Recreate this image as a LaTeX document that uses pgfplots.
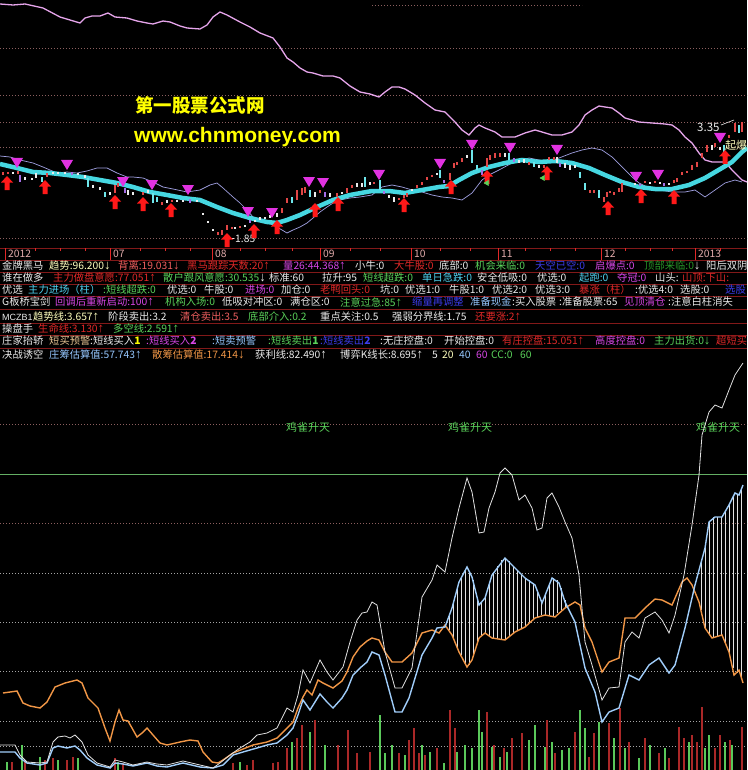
\documentclass[border=0pt]{standalone}
\usepackage{pgfplots}
\pgfplotsset{compat=1.18}
\usepackage{fontspec}
\newfontfamily\cjk{Noto Sans CJK SC}
\newfontfamily\lsans{Liberation Sans}
\definecolor{cW}{RGB}{235,235,235}
\definecolor{cLY}{RGB}{255,255,190}
\definecolor{cPR}{RGB}{240,95,95}
\definecolor{cR}{RGB}{225,40,40}
\definecolor{cM}{RGB}{215,70,230}
\definecolor{cG}{RGB}{90,210,90}
\definecolor{cDG}{RGB}{40,150,40}
\definecolor{cB}{RGB}{60,60,235}
\definecolor{cC}{RGB}{80,210,240}
\definecolor{cLB}{RGB}{150,200,255}
\definecolor{cO}{RGB}{240,150,70}
\definecolor{cLO}{RGB}{235,200,150}
\definecolor{cY}{RGB}{255,255,0}
\definecolor{cDate}{RGB}{225,170,170}
\definecolor{cSep}{RGB}{130,25,25}
\definecolor{cDot}{RGB}{140,95,95}
\definecolor{cDotW}{RGB}{165,165,165}
\definecolor{cPink}{RGB}{230,165,235}
\definecolor{cLav}{RGB}{160,160,225}
\definecolor{cBand}{RGB}{70,215,225}
\definecolor{cCand}{RGB}{225,70,70}
\definecolor{cCyan}{RGB}{110,230,235}
\definecolor{cPur}{RGB}{165,110,230}
\definecolor{cTri}{RGB}{225,50,225}
\definecolor{cArr}{RGB}{255,25,25}
\definecolor{cVR}{RGB}{170,40,40}
\definecolor{cVG}{RGB}{90,200,90}
\definecolor{cLine}{RGB}{225,225,225}
\definecolor{cBlue}{RGB}{160,205,250}
\definecolor{cHL}{RGB}{100,175,100}
\newcommand\rowfont{\cjk\fontsize{10.3}{11}\selectfont}
\newcommand\U{{\lsans\fontsize{13}{11}\selectfont ↑}}
\newcommand\D{{\lsans\fontsize{13}{11}\selectfont ↓}}
\newcommand\T[4]{\node[anchor=west,inner sep=0pt,text=#3,font=\rowfont] at (axis cs:#1,#2) {#4};}
\pgfdeclareplotmark{uparr}{%
 \pgfpathmoveto{\pgfqpoint{0pt}{7pt}}%
 \pgfpathlineto{\pgfqpoint{6pt}{0.5pt}}%
 \pgfpathlineto{\pgfqpoint{2.5pt}{0.5pt}}%
 \pgfpathlineto{\pgfqpoint{2.5pt}{-7pt}}%
 \pgfpathlineto{\pgfqpoint{-2.5pt}{-7pt}}%
 \pgfpathlineto{\pgfqpoint{-2.5pt}{0.5pt}}%
 \pgfpathlineto{\pgfqpoint{-6pt}{0.5pt}}%
 \pgfpathclose\pgfusepathqfill}
\pgfdeclareplotmark{downtri}{%
 \pgfpathmoveto{\pgfqpoint{-6pt}{5pt}}%
 \pgfpathlineto{\pgfqpoint{6pt}{5pt}}%
 \pgfpathlineto{\pgfqpoint{0pt}{-5pt}}%
 \pgfpathclose\pgfusepathqfill}
\begin{document}
\begin{tikzpicture}
\begin{axis}[scale only axis,width=747pt,height=770pt,
 xmin=0,xmax=747,ymin=0,ymax=770,y dir=reverse,hide axis,unbounded coords=jump]
\fill[black] (axis cs:0,0) rectangle (axis cs:747,770);
% ---------- top panel grid
\addplot[cDot,dash pattern=on 1pt off 2pt] coordinates {(372,5)(582,5)};
\addplot[cDot,dash pattern=on 1pt off 2pt] coordinates {(0,48)(747,48)};
\addplot[cDot,dash pattern=on 1pt off 2pt] coordinates {(0,95)(747,95)};
\addplot[cDot,dash pattern=on 1pt off 2pt] coordinates {(0,122)(747,122)};
\addplot[cDot,dash pattern=on 1pt off 2pt] coordinates {(0,147)(747,147)};
\addplot[cDot,dash pattern=on 1pt off 2pt] coordinates {(0,238)(747,238)};
% ---------- pink line
\addplot[cPink,line width=1.3pt] coordinates {(0,4)(13,5)(25,4)(43,8)(60,17)(80,23)(85,18)(92,16)(100,16)(108,13)(115,17)(127,18)(137,21)(147,23)(153,24)(163,21)(170,22)(180,26)(187,28)(200,29)(207,25)(213,17)(220,12)(227,15)(240,22)(250,27)(260,33)(273,38)(280,47)(287,58)(293,62)(300,68)(307,72)(313,73)(323,76)(333,76)(340,78)(350,86)(360,92)(370,94)(379,97)(385,92)(392,87)(399,87)(405,89)(415,95)(425,103)(435,110)(445,112)(455,122)(462,130)(469,135)(475,128)(479,125)(485,128)(495,132)(502,137)(515,137)(525,133)(535,130)(542,132)(552,135)(562,135)(572,132)(579,125)(585,115)(592,110)(599,106)(605,107)(612,108)(619,113)(625,118)(639,122)(652,123)(665,124)(672,125)(679,130)(685,137)(692,143)(699,153)(705,160)(712,162)(719,162)(725,162)(732,170)(739,177)(742,180)(747,182)};
% ---------- thin lavender line
\addplot[cLav,line width=0.7pt] coordinates {(0,156)(10,157)(20,160)(33,163)(43,167)(50,170)(57,173)(67,172)(77,173)(87,171)(97,168)(107,168)(117,173)(127,177)(133,177)(143,178)(153,182)(163,187)(173,189)(187,192)(200,190)(210,185)(217,183)(223,188)(233,197)(240,203)(247,210)(253,217)(260,220)(267,222)(277,227)(287,233)(293,230)(300,227)(307,223)(313,218)(320,212)(327,207)(333,203)(340,200)(350,198)(360,197)(372,195)(382,187)(392,185)(402,187)(412,190)(422,192)(432,195)(442,197)(452,198)(462,200)(472,193)(482,180)(489,175)(499,170)(512,163)(522,160)(529,158)(539,160)(549,162)(559,158)(572,153)(582,150)(592,148)(602,150)(612,157)(622,167)(632,177)(639,183)(649,188)(659,190)(672,192)(685,192)(695,190)(705,197)(715,190)(725,183)(735,180)(742,182)};
% ---------- cyan band
\addplot[cBand,line width=4.5pt] coordinates {(0,164)(17,168)(33,172)(50,173)(67,175)(83,177)(100,180)(117,183)(133,187)(150,192)(167,195)(183,198)(200,200)(217,207)(233,213)(250,218)(267,222)(277,223)(287,220)(300,215)(317,207)(333,200)(350,195)(372,191)(389,191)(405,193)(422,190)(439,187)(449,186)(459,180)(472,173)(489,167)(505,163)(522,160)(539,162)(555,161)(572,163)(589,168)(605,175)(622,182)(639,187)(655,189)(672,189)(689,185)(705,178)(722,168)(732,162)(742,152)(747,148)};
% ---------- candles
\addplot[cCand,line width=2.6pt] coordinates {(3,172)(3,175)(3,nan)(8,172)(8,174)(8,nan)(18,171)(18,174)(18,nan)(47,173)(47,177)(47,nan)(115,185)(115,193)(115,nan)(118,183)(118,187)(118,nan)(143,192)(143,195)(143,nan)(162,202)(162,205)(162,nan)(172,200)(172,202)(172,nan)(218,232)(218,235)(218,nan)(222,230)(222,235)(222,nan)(227,225)(227,230)(227,nan)(232,227)(232,229)(232,nan)(240,226)(240,228)(240,nan)(282,208)(282,213)(282,nan)(287,198)(287,203)(287,nan)(297,190)(297,200)(297,nan)(302,188)(302,195)(302,nan)(305,187)(305,193)(305,nan)(320,190)(320,193)(320,nan)(337,193)(337,197)(337,nan)(347,188)(347,193)(347,nan)(352,185)(352,188)(352,nan)(374,182)(374,184)(374,nan)(399,198)(399,200)(399,nan)(404,195)(404,198)(404,nan)(407,193)(407,197)(407,nan)(417,185)(417,188)(417,nan)(422,182)(422,185)(422,nan)(427,177)(427,180)(427,nan)(432,175)(432,177)(432,nan)(450,173)(450,180)(450,nan)(454,163)(454,168)(454,nan)(457,162)(457,165)(457,nan)(462,158)(462,162)(462,nan)(487,158)(487,167)(487,nan)(490,155)(490,160)(490,nan)(495,153)(495,158)(495,nan)(500,153)(500,157)(500,nan)(529,162)(529,165)(529,nan)(544,165)(544,168)(544,nan)(549,157)(549,160)(549,nan)(554,157)(554,160)(554,nan)(590,190)(590,193)(590,nan)(594,190)(594,193)(594,nan)(604,197)(604,202)(604,nan)(607,192)(607,197)(607,nan)(610,191)(610,193)(610,nan)(614,192)(614,195)(614,nan)(619,188)(619,192)(619,nan)(622,183)(622,192)(622,nan)(645,181)(645,183)(645,nan)(655,181)(655,183)(655,nan)(674,180)(674,183)(674,nan)(677,178)(677,182)(677,nan)(682,172)(682,175)(682,nan)(687,171)(687,173)(687,nan)(692,165)(692,170)(692,nan)(697,162)(697,167)(697,nan)(702,153)(702,158)(702,nan)(707,145)(707,152)(707,nan)(715,143)(715,147)(715,nan)(729,135)(729,138)(729,nan)(735,123)(735,132)(735,nan)(742,122)(742,132)};
\addplot[cCyan,line width=2.6pt] coordinates {(42,177)(42,182)(42,nan)(88,178)(88,187)(88,nan)(105,192)(105,197)(105,nan)(153,193)(153,203)(153,nan)(157,197)(157,202)(157,nan)(292,197)(292,203)(292,nan)(310,190)(310,197)(310,nan)(365,177)(365,187)(365,nan)(380,180)(380,190)(380,nan)(440,170)(440,178)(440,nan)(472,150)(472,163)(472,nan)(477,165)(477,170)(477,nan)(509,153)(509,160)(509,nan)(534,162)(534,167)(534,nan)(580,172)(580,178)(580,nan)(585,183)(585,190)(585,nan)(599,190)(599,198)(599,nan)(724,145)(724,153)(724,nan)(739,125)(739,133)};
\addplot[cW,line width=1.6pt] coordinates {(13,172)(13,174)(13,nan)(25,177)(25,180)(25,nan)(32,178)(32,180)(32,nan)(36,173)(36,178)(36,nan)(53,172)(53,174)(53,nan)(58,172)(58,174)(58,nan)(65,172)(65,174)(65,nan)(78,173)(78,175)(78,nan)(85,175)(85,178)(85,nan)(93,185)(93,188)(93,nan)(100,187)(100,190)(100,nan)(110,192)(110,195)(110,nan)(128,190)(128,195)(128,nan)(133,192)(133,195)(133,nan)(148,190)(148,193)(148,nan)(167,200)(167,203)(167,nan)(177,200)(177,202)(177,nan)(183,200)(183,202)(183,nan)(197,200)(197,202)(197,nan)(203,213)(203,215)(203,nan)(208,221)(208,223)(208,nan)(213,229)(213,231)(213,nan)(235,227)(235,229)(235,nan)(245,225)(245,227)(245,nan)(255,220)(255,222)(255,nan)(260,217)(260,220)(260,nan)(265,217)(265,219)(265,nan)(270,215)(270,218)(270,nan)(277,213)(277,217)(277,nan)(315,192)(315,197)(315,nan)(330,193)(330,197)(330,nan)(342,192)(342,194)(342,nan)(357,183)(357,187)(357,nan)(362,183)(362,187)(362,nan)(370,182)(370,185)(370,nan)(389,195)(389,198)(389,nan)(394,197)(394,202)(394,nan)(412,189)(412,191)(412,nan)(437,173)(437,175)(437,nan)(467,155)(467,158)(467,nan)(505,153)(505,157)(505,nan)(519,160)(519,163)(519,nan)(524,159)(524,163)(524,nan)(539,165)(539,168)(539,nan)(557,157)(557,163)(557,nan)(565,163)(565,168)(565,nan)(570,165)(570,170)(570,nan)(575,165)(575,168)(575,nan)(635,183)(635,185)(635,nan)(650,182)(650,184)(650,nan)(660,182)(660,184)(660,nan)(669,183)(669,185)(669,nan)(712,145)(712,150)(712,nan)(720,147)(720,150)};
\addplot[cPur,line width=2.6pt] coordinates {(20,175)(20,182)(20,nan)(72,172)(72,175)(72,nan)(125,188)(125,193)(125,nan)(190,199)(190,203)(190,nan)(250,220)(250,223)(250,nan)(325,192)(325,197)(325,nan)(384,191)(384,194)(384,nan)(444,180)(444,183)(444,nan)(482,170)(482,175)(482,nan)(514,158)(514,162)(514,nan)(560,163)(560,167)(560,nan)(640,184)(640,186)(640,nan)(664,183)(664,186)};
% ---------- signals
\addplot[only marks,mark=downtri,color=cTri] coordinates {(17,163)(67,165)(123,182)(152,185)(188,190)(248,212)(272,213)(309,182)(323,183)(379,175)(440,164)(472,145)(510,148)(557,150)(636,177)(658,175)(720,138)};
\addplot[only marks,mark=uparr,color=cArr] coordinates {(7,183)(45,187)(115,202)(143,204)(171,210)(227,240)(254,231)(277,227)(315,210)(338,204)(404,205)(451,187)(487,177)(547,173)(608,208)(641,196)(674,197)(725,157)};
\addplot[only marks,mark=triangle*,mark size=3pt,color=cG,mark options={rotate=-30}] coordinates {(487,183)(543,178)};
\addplot[cW,line width=0.6pt] coordinates {(226,238)(234,238)};
\addplot[cW,line width=0.6pt] coordinates {(721,125)(734,120)};
\node[anchor=west,inner sep=0pt,text=cW,font=\rowfont] at (axis cs:235,239) {1.85};
\node[anchor=west,inner sep=0pt,text=cW,font=\cjk\fontsize{11.5}{12}\selectfont] at (axis cs:697,127) {3.35};
\node[anchor=west,inner sep=0pt,text=cLY,font=\cjk\fontsize{11}{11}\selectfont] at (axis cs:725,145) {起爆};
% ---------- watermark
\node[anchor=west,inner sep=0pt,text=cY,font=\cjk\bfseries\fontsize{18.5}{19}\selectfont] at (axis cs:135,105) {第一股票公式网};
\node[anchor=west,inner sep=0pt,text=cY,font=\lsans\bfseries\fontsize{21}{21}\selectfont] at (axis cs:134,137) {www.chnmoney.com};
% ---------- separators and date axis
\addplot[cSep,line width=1pt] coordinates {(0,248)(747,248)};
\addplot[cSep,line width=1pt] coordinates {(0,260)(747,260)};
\addplot[cSep,line width=0.8pt] coordinates {(0,272)(747,272)};
\addplot[cSep,line width=0.8pt] coordinates {(0,284)(747,284)};
\addplot[cSep,line width=0.8pt] coordinates {(0,296)(747,296)};
\addplot[cSep,line width=0.8pt] coordinates {(0,309)(747,309)};
\addplot[cSep,line width=0.8pt] coordinates {(0,323)(747,323)};
\addplot[cSep,line width=0.8pt] coordinates {(0,335)(747,335)};
\addplot[cSep,line width=0.8pt] coordinates {(0,348)(747,348)};
\addplot[cR,line width=0.8pt] coordinates {(5,248)(5,260)(5,nan)(110,248)(110,260)(110,nan)(212,248)(212,260)(212,nan)(320,248)(320,260)(320,nan)(411,248)(411,260)(411,nan)(498,248)(498,260)(498,nan)(601,248)(601,260)(601,nan)(695,248)(695,260)};
\addplot[cR,line width=0.6pt] coordinates {(35,248)(35,251)(35,nan)(60,248)(60,251)(60,nan)(85,248)(85,251)(85,nan)(140,248)(140,251)(140,nan)(165,248)(165,251)(165,nan)(190,248)(190,251)(190,nan)(240,248)(240,251)(240,nan)(265,248)(265,251)(265,nan)(292,248)(292,251)(292,nan)(350,248)(350,251)(350,nan)(380,248)(380,251)(380,nan)(440,248)(440,251)(440,nan)(470,248)(470,251)(470,nan)(525,248)(525,251)(525,nan)(550,248)(550,251)(550,nan)(575,248)(575,251)(575,nan)(625,248)(625,251)(625,nan)(650,248)(650,251)(650,nan)(672,248)(672,251)(672,nan)(720,248)(720,251)};
\T{8}{254}{cDate}{2012}
\T{113}{254}{cDate}{07}
\T{215}{254}{cDate}{08}
\T{323}{254}{cDate}{09}
\T{414}{254}{cDate}{10}
\T{501}{254}{cDate}{11}
\T{604}{254}{cDate}{12}
\T{698}{254}{cDate}{2013}
% ---------- text rows
\T{2}{266}{cW}{金牌黑马}
\T{49}{266}{cLY}{趋势:96.200\D}
\T{118}{266}{cPR}{背离:19.031\D}
\T{187}{266}{cR}{黑马跟踪天数:20\U}
\T{283}{266}{cM}{量26:44.368\U}
\T{355}{266}{cW}{小牛:0}
\T{394}{266}{cR}{大牛股:0}
\T{439}{266}{cW}{底部:0}
\T{475}{266}{cG}{机会来临:0}
\T{535}{266}{cB}{天空已空:0}
\T{595}{266}{cM}{启爆点:0}
\T{644}{266}{cDG}{顶部来临:0\textcolor{cW}{\D}}
\T{706}{266}{cW}{阳后双阴}
\T{2}{278}{cW}{谁在做多}
\T{53}{278}{cR}{主力做盘意愿:77.051\U}
\T{163}{278}{cG}{散户跟风意愿:30.535\textcolor{cW}{\D}}
\T{269}{278}{cW}{标准:60}
\T{322}{278}{cW}{拉升:95}
\T{363}{278}{cG}{短线超跌:0}
\T{422}{278}{cC}{单日急跌:0}
\T{477}{278}{cW}{安全低吸:0}
\T{537}{278}{cW}{优选:0}
\T{579}{278}{cC}{起跑:0}
\T{617}{278}{cM}{夺冠:0}
\T{655}{278}{cW}{山头:}
\T{682}{278}{cR}{山顶:下山:}
\T{2}{290}{cW}{优选}
\T{28}{290}{cC}{主力进场（柱）}
\T{103}{290}{cG}{:短线超跌:0}
\T{167}{290}{cW}{优选:0}
\T{204}{290}{cW}{牛股:0}
\T{245}{290}{cM}{进场:0}
\T{281}{290}{cW}{加仓:0}
\T{320}{290}{cR}{老鸭回头:0}
\T{380}{290}{cW}{坑:0}
\T{405}{290}{cW}{优选1:0}
\T{449}{290}{cW}{牛股1:0}
\T{492}{290}{cW}{优选2:0}
\T{535}{290}{cW}{优选3:0}
\T{579}{290}{cR}{暴涨（柱）}
\T{635}{290}{cW}{:优选4:0}
\T{680}{290}{cW}{选股:0}
\T{725}{290}{cB}{选股}
\T{2}{302}{cW}{G板桥宝剑}
\T{55}{302}{cM}{回调后重新启动:100\U}
\T{165}{302}{cG}{机构入场:0}
\T{222}{302}{cW}{低吸对冲区:0}
\T{290}{302}{cW}{满仓区:0}
\T{340}{302}{cG}{注意过急:85\U}
\T{412}{302}{cB}{缩量再调整}
\T{470}{302}{cLB}{准备现金}
\T{512}{302}{cW}{:买入股票}
\T{559}{302}{cW}{:准备股票:65}
\T{624}{302}{cM}{见顶清仓}
\T{668}{302}{cW}{:注意白柱消失}
\node[anchor=west,inner sep=0pt,text=cW,font=\lsans\fontsize{9}{9}\selectfont] at (axis cs:2,317) {MCZB1};
\T{33}{317}{cLY}{趋势线:3.657\U}
\T{108}{317}{cW}{阶段卖出:3.2}
\T{180}{317}{cPR}{清仓卖出:3.5}
\T{248}{317}{cG}{底部介入:0.2}
\T{320}{317}{cW}{重点关注:0.5}
\T{392}{317}{cW}{强弱分界线:1.75}
\T{475}{317}{cR}{还要涨:2\U}
\T{2}{329}{cW}{操盘手}
\T{38}{329}{cR}{生命线:3.130\U}
\T{113}{329}{cG}{多空线:2.591\U}
\T{2}{341}{cW}{庄家抬轿}
\T{49}{341}{cLO}{短买预警}
\T{90}{341}{cW}{:短线买入\textcolor{cY}{\bfseries 1}}
\T{146}{341}{cM}{:短线买入\bfseries 2}
\T{212}{341}{cLB}{:短卖预警}
\T{268}{341}{cG}{:短线卖出\bfseries 1}
\T{320}{341}{cB}{:短线卖出\bfseries 2}
\T{380}{341}{cW}{:无庄控盘:0}
\T{444}{341}{cW}{开始控盘:0}
\T{502}{341}{cR}{有庄控盘:15.051\U}
\T{595}{341}{cM}{高度控盘:0}
\T{654}{341}{cG}{主力出货:0\D}
\T{716}{341}{cR}{超短买}
\T{2}{355}{cW}{决战诱空}
\T{49}{355}{cLB}{庄筹估算值:57.743\U}
\T{152}{355}{cO}{散筹估算值:17.414\D}
\T{255}{355}{cW}{获利线:82.490\U}
\T{340}{355}{cW}{博弈K线长:8.695\U}
\T{432}{355}{cW}{5}
\T{442}{355}{cLY}{20}
\T{459}{355}{cLB}{40}
\T{476}{355}{cM}{60}
\T{491}{355}{cG}{CC:0}
\T{520}{355}{cG}{60}
% ---------- lower panel grid
\addplot[cDot,dash pattern=on 1pt off 2pt] coordinates {(0,424)(747,424)};
\addplot[cDot,dash pattern=on 1pt off 2pt] coordinates {(0,523)(747,523)};
\addplot[cDotW,dash pattern=on 1pt off 2pt] coordinates {(0,573)(747,573)};
\addplot[cDotW,dash pattern=on 1pt off 2pt] coordinates {(0,622)(747,622)};
\addplot[cDotW,dash pattern=on 1pt off 2pt] coordinates {(0,671)(747,671)};
\addplot[cDotW,dash pattern=on 1pt off 2pt] coordinates {(0,721)(747,721)};
\addplot[cDotW,dash pattern=on 1pt off 2pt] coordinates {(0,746)(747,746)};
\addplot[cHL,line width=1pt] coordinates {(0,474)(747,474)};
\node[anchor=center,inner sep=0pt,text=cG,font=\cjk\fontsize{11}{11}\selectfont] at (axis cs:308,427) {鸡雀升天};
\node[anchor=center,inner sep=0pt,text=cG,font=\cjk\fontsize{11}{11}\selectfont] at (axis cs:470,427) {鸡雀升天};
\node[anchor=center,inner sep=0pt,text=cG,font=\cjk\fontsize{11}{11}\selectfont] at (axis cs:718,427) {鸡雀升天};
% ---------- volume bars
\addplot[cVG,line width=1.2pt] coordinates {(7,770)(7,762)(7,nan)(22,770)(22,745)(22,nan)(40,770)(40,757)(40,nan)(58,770)(58,760)(58,nan)(78,770)(78,758)(78,nan)(118,770)(118,762)(118,nan)(240,770)(240,762)(240,nan)(292,770)(292,742)(292,nan)(310,770)(310,732)(310,nan)(325,770)(325,745)(325,nan)(380,770)(380,715)(380,nan)(385,770)(385,753)(385,nan)(392,770)(392,745)(392,nan)(405,770)(405,755)(405,nan)(422,770)(422,745)(422,nan)(430,770)(430,752)(430,nan)(444,770)(444,763)(444,nan)(457,770)(457,752)(457,nan)(465,770)(465,745)(465,nan)(472,770)(472,748)(472,nan)(479,770)(479,710)(479,nan)(482,770)(482,732)(482,nan)(492,770)(492,747)(492,nan)(500,770)(500,757)(500,nan)(507,770)(507,752)(507,nan)(529,770)(529,740)(529,nan)(535,770)(535,725)(535,nan)(545,770)(545,747)(545,nan)(552,770)(552,742)(552,nan)(562,770)(562,750)(562,nan)(569,770)(569,748)(569,nan)(580,770)(580,710)(580,nan)(585,770)(585,728)(585,nan)(599,770)(599,722)(599,nan)(614,770)(614,738)(614,nan)(625,770)(625,748)(625,nan)(639,770)(639,758)(639,nan)(650,770)(650,745)(650,nan)(665,770)(665,748)(665,nan)(689,770)(689,742)(689,nan)(705,770)(705,748)(705,nan)(709,770)(709,735)(709,nan)(725,770)(725,742)(725,nan)(732,770)(732,745)};
\addplot[cVR,line width=1.2pt] coordinates {(12,770)(12,762)(12,nan)(25,770)(25,760)(25,nan)(45,770)(45,760)(45,nan)(53,770)(53,758)(53,nan)(67,770)(67,760)(67,nan)(73,770)(73,757)(73,nan)(115,770)(115,758)(115,nan)(123,770)(123,763)(123,nan)(233,770)(233,763)(233,nan)(247,770)(247,765)(247,nan)(253,770)(253,760)(253,nan)(273,770)(273,763)(273,nan)(278,770)(278,762)(278,nan)(287,770)(287,748)(287,nan)(297,770)(297,738)(297,nan)(302,770)(302,725)(302,nan)(315,770)(315,720)(315,nan)(338,770)(338,745)(338,nan)(348,770)(348,730)(348,nan)(357,770)(357,753)(357,nan)(370,770)(370,752)(370,nan)(399,770)(399,753)(399,nan)(409,770)(409,740)(409,nan)(414,770)(414,728)(414,nan)(419,770)(419,753)(419,nan)(425,770)(425,755)(425,nan)(437,770)(437,748)(437,nan)(450,770)(450,710)(450,nan)(455,770)(455,728)(455,nan)(487,770)(487,712)(487,nan)(494,770)(494,745)(494,nan)(504,770)(504,748)(504,nan)(512,770)(512,738)(512,nan)(522,770)(522,733)(522,nan)(547,770)(547,720)(547,nan)(555,770)(555,753)(555,nan)(575,770)(575,732)(575,nan)(589,770)(589,757)(589,nan)(594,770)(594,733)(594,nan)(609,770)(609,723)(609,nan)(620,770)(620,708)(620,nan)(629,770)(629,742)(629,nan)(645,770)(645,738)(645,nan)(659,770)(659,753)(659,nan)(669,770)(669,758)(669,nan)(679,770)(679,727)(679,nan)(684,770)(684,738)(684,nan)(692,770)(692,735)(692,nan)(697,770)(697,742)(697,nan)(702,770)(702,707)(702,nan)(715,770)(715,748)(715,nan)(720,770)(720,735)(720,nan)(730,770)(730,740)(730,nan)(742,770)(742,727)};
% ---------- hatch
\addplot[cLine,line width=0.8pt] coordinates {(449,616)(449,630)(449,nan)(453,604)(453,638)(453,nan)(457,589)(457,647)(457,nan)(461,578)(461,655)(461,nan)(465,570)(465,664)(465,nan)(469,571)(469,665)(469,nan)(473,580)(473,656)(473,nan)(477,597)(477,643)(477,nan)(481,602)(481,636)(481,nan)(485,598)(485,633)(485,nan)(489,585)(489,636)(489,nan)(493,573)(493,638)(493,nan)(497,566)(497,639)(497,nan)(501,560)(501,640)(501,nan)(505,558)(505,640)(505,nan)(509,561)(509,637)(509,nan)(513,566)(513,633)(513,nan)(517,570)(517,631)(517,nan)(521,574)(521,629)(521,nan)(525,578)(525,627)(525,nan)(529,580)(529,623)(529,nan)(533,583)(533,620)(533,nan)(537,590)(537,617)(537,nan)(541,600)(541,615)(541,nan)(545,595)(545,615)(545,nan)(549,583)(549,616)(549,nan)(553,578)(553,617)(553,nan)(557,580)(557,613)(557,nan)(561,588)(561,610)(561,nan)(565,600)(565,608)(565,nan)(701,560)(701,610)(701,nan)(705,548)(705,628)(705,nan)(709,522)(709,635)(709,nan)(713,517)(713,638)(713,nan)(717,517)(717,637)(717,nan)(721,517)(721,635)(721,nan)(725,510)(725,642)(725,nan)(729,505)(729,652)(729,nan)(733,495)(733,668)(733,nan)(737,494)(737,673)(737,nan)(741,490)(741,678)};
% ---------- lower lines
\addplot[cO,line width=1.4pt] coordinates {(3,693)(17,691)(23,703)(30,706)(40,708)(47,702)(55,687)(65,683)(77,680)(82,683)(88,698)(98,708)(105,728)(110,741)(115,722)(119,710)(123,720)(128,721)(132,728)(137,737)(142,733)(147,728)(153,735)(160,743)(167,745)(180,742)(190,740)(198,741)(203,752)(212,762)(218,763)(223,760)(233,753)(243,749)(253,745)(267,742)(277,738)(287,728)(293,722)(298,708)(303,697)(307,690)(312,695)(318,680)(323,683)(333,688)(342,681)(347,672)(353,657)(360,647)(367,641)(372,638)(379,640)(385,652)(392,662)(402,662)(412,653)(422,633)(432,630)(439,633)(445,625)(452,635)(459,652)(467,667)(472,660)(479,638)(485,633)(492,638)(505,640)(515,632)(525,627)(535,618)(545,615)(555,617)(565,608)(575,602)(580,605)(585,628)(592,642)(602,672)(609,662)(619,658)(625,618)(635,618)(645,608)(655,599)(662,600)(672,605)(682,582)(687,578)(692,585)(699,602)(705,628)(712,638)(722,635)(729,652)(734,675)(739,670)(743,683)};
\addplot[cBlue,line width=1.4pt] coordinates {(0,752)(15,752)(20,758)(27,763)(40,765)(47,763)(53,748)(58,746)(67,748)(75,746)(80,750)(87,758)(97,765)(110,768)(115,763)(123,764)(133,766)(147,763)(157,766)(167,767)(183,763)(200,767)(213,768)(223,765)(233,755)(243,752)(257,748)(267,745)(277,743)(287,735)(293,728)(298,715)(303,700)(310,710)(320,694)(327,702)(333,708)(342,698)(347,690)(353,675)(360,668)(367,662)(372,652)(379,655)(385,675)(395,712)(402,712)(409,698)(422,655)(432,638)(437,628)(445,627)(452,608)(459,582)(467,567)(472,577)(479,605)(485,598)(492,575)(505,558)(515,568)(525,578)(535,585)(542,603)(552,578)(559,583)(565,602)(575,622)(585,668)(595,692)(602,722)(609,712)(619,708)(629,675)(639,680)(649,665)(659,658)(669,673)(675,665)(685,628)(695,585)(705,548)(709,522)(715,517)(722,517)(729,505)(735,493)(739,495)(743,485)};
\addplot[cLine,line width=0.8pt] coordinates {(0,745)(15,745)(20,755)(27,762)(40,763)(47,762)(53,742)(58,737)(65,736)(70,738)(75,735)(82,742)(88,755)(97,763)(110,767)(115,760)(123,762)(133,765)(147,762)(157,764)(167,765)(183,761)(200,765)(213,768)(220,763)(230,755)(240,748)(250,742)(257,735)(267,733)(277,728)(287,708)(293,712)(298,695)(303,670)(310,683)(320,660)(327,672)(333,680)(343,667)(350,642)(357,620)(362,613)(367,612)(372,602)(377,605)(385,652)(395,688)(402,688)(412,668)(422,597)(432,580)(437,565)(445,572)(452,538)(459,508)(467,478)(472,492)(479,533)(484,532)(489,508)(495,492)(500,473)(505,468)(512,475)(519,500)(525,495)(532,508)(537,530)(542,528)(547,498)(552,493)(559,507)(565,522)(572,538)(579,575)(585,642)(592,665)(602,700)(609,688)(619,687)(625,642)(632,632)(639,638)(645,618)(655,612)(662,620)(669,633)(675,615)(684,575)(692,525)(699,475)(702,435)(709,412)(715,405)(722,408)(729,390)(735,375)(743,363)};
\end{axis}
\end{tikzpicture}
\end{document}
